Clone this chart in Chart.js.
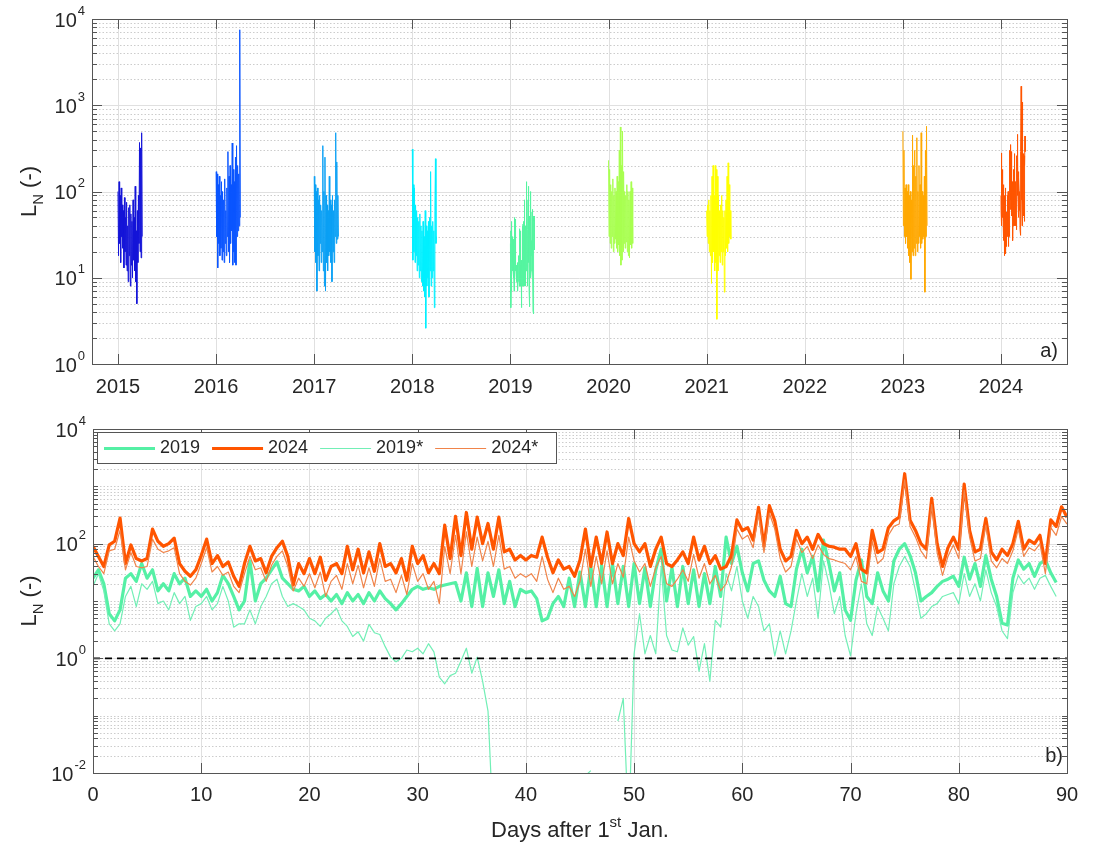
<!DOCTYPE html>
<html>
<head>
<meta charset="utf-8">
<script src="https://cdn.jsdelivr.net/npm/chart.js@4.4.1/dist/chart.umd.min.js"></script>
<style>
  body { margin: 0; background: #fff; }
  #wrap { position: relative; width: 1096px; height: 844px; }
  canvas { position: absolute; left: 0; }
  #top { top: 0; }
  #bot { top: 410px; }
</style>
</head>
<body>
<div id="wrap">
  <canvas id="top" width="1096" height="410"></canvas>
  <canvas id="bot" width="1096" height="434"></canvas>
</div>
<script>
// sample times (days after 1 Jan)
const DAYS = Array.from({ length: 181 }, (_, i) => i / 2);      // panel b, half-day
const DAYS_TOP = Array.from({ length: 46 }, (_, i) => i * 2);   // panel a, other years

const YEAR_TICKS = [2015, 2016, 2017, 2018, 2019, 2020, 2021, 2022, 2023, 2024];
const DAY_TICKS = [0, 10, 20, 30, 40, 50, 60, 70, 80, 90];
const THRESHOLD = 1;

// L_N, 2019 and 2024 (panel b thick lines, also panel a)
const LN_2019 = [
  25,35,20,6,4.5,7,25,30,22,45,  25,35,15,20,15,30,20,25,12,15,
  12,16,10,14,28,20,12,7,10,50,  10,20,25,35,48,25,20,16,15,18,
  12,15,11,13,10,13,9,14,10,13,  9,14,10,15,11,9,7,9,12,16,
  18,16,17,16,18,19,20,21,10,31, 8,37,8,31,12,35,9,22,8,16,
  14,15,11,4.5,5,9,12,8,25,8,    32,8,40,8,42,8,45,9,40,8,
  45,9,38,8,35,80,10,38,8,40,    9,35,8,30,9,40,12,130,45,90,
  31,15,45,50,23,15,12,27,9,8,   36,80,31,60,15,115,45,15,31,7,
  4.6,23,52,12,9,31,15,10,50,80, 100,62,31,10,12,14,18,22,24,27,
  18,58,24,45,18,62,24,12,4.1,3.8, 25,52,36,45,27,45,52,31,21,null,
  null
];
const LN_2024 = [
  90,60,40,95,110,280,45,95,55,50,   55,180,110,90,100,125,45,33,27,35,
  62,120,45,62,40,48,27,18,45,90,    50,55,31,60,85,110,60,19,45,30,
  55,30,58,23,40,45,30,90,35,80,     31,72,33,100,40,45,31,55,23,90,
  45,62,31,45,30,210,55,300,62,350,  80,290,100,225,80,290,72,80,52,62,
  52,62,58,130,58,31,52,36,40,27,    52,180,40,130,45,160,45,100,62,275,
  100,72,100,40,80,130,45,40,52,72,  45,130,52,90,45,62,36,40,62,260,
  170,190,115,430,90,460,250,80,50,60, 170,100,130,80,145,100,90,87,80,80,
  60,100,36,31,170,70,80,190,250,290,  1660,257,170,100,80,615,100,40,85,130,
  80,1090,170,72,80,275,72,52,80,62,   100,245,80,115,100,140,45,260,200,440,
  290
];
// starred variants (panel b thin lines)
const LN_2019_STAR = [
  18,30,15,4,3,4,12,18,8,20,     16,22,9,10,7,14,9,12,4.6,8,
  9,12,7,9,18,10,3.5,4,4,7,      4,8,12,20,24,12,8,9,8,7,
  5,4.5,3.6,5,6,7.5,4.5,3.6,2.4,2.9, 2,3.9,2.8,2.6,1.6,1.05,0.87,1,1.4,1.3,
  1.5,1.2,1.8,1.3,0.47,0.36,0.5,0.55,0.9,1.5, 0.55,1.05,0.4,0.12,0.001,null,null,null,null,null,
  null,null,null,null,null,null,null,null,null,null, null,0.009,0.011,null,null,null,null,0.08,0.2,0.001,
  1.2,6,1.2,2.5,1.2,40,2.5,1.4,1.3,3.4, 1.7,2.4,0.6,1.8,0.4,4.6,3.5,30,15,40,
  10,5,12,8,3,4,1.1,3,1.2,3,     10,30,12,25,5,50,20,6,12,2.5,
  1.1,6,20,4,2.5,8,5,3,20,40,    60,40,15,5,6,8,9,12,13,14,
  9,30,12,20,10,35,14,8,3,2.2,   14,28,20,25,16,25,28,18,12,null,
  null
];
const LN_2024_STAR = [
  60,40,30,75,80,170,35,70,40,38,   40,120,80,70,75,85,30,22,19,25,
  45,85,32,40,28,32,18,14,30,60,    35,38,22,42,60,75,40,15,25,18,
  30,17,32,12,22,28,16,45,20,42,    17,38,18,55,22,24,14,28,13,45,
  22,30,16,22,9,90,30,140,30,160,   40,130,50,110,40,140,36,40,25,30,
  26,30,22,60,24,14,25,16,18,12,    22,80,18,60,20,75,20,45,26,130,
  50,32,45,18,38,60,20,18,24,35,    22,65,25,45,20,28,15,20,40,180,
  120,140,85,330,70,340,180,55,32,40, 120,70,90,55,95,65,55,52,48,45,
  35,60,22,20,110,45,55,140,200,220,  1300,200,130,75,55,480,70,28,60,95,
  55,850,130,50,55,210,50,38,55,45,   75,180,60,85,75,100,30,190,140,300,
  220
];

// panel a, other years (every 2 days)
const LN_2015 = [100,18,130,25,90,15,110,30,70,22, 60,13,85,20,50,14,75,12,40,9, 65,18,70,8,55,14,45,10,80,16, 50,12,115,9,35,5,60,15,90,25, 370,20,320,17,480,30];
const LN_2016 = [170,30,160,13,120,25,150,18,90,22, 130,16,100,20,80,15,140,25,60,18, 110,30,290,20,150,15,200,25,120,35, 365,14,180,20,130,15,250,14,340,30, 200,35,160,40,7500,50];
const LN_2017 = [150,20,120,15,100,7,110,18,80,12, 90,25,70,15,60,20,340,12,100,8, 250,7,90,15,70,12,60,18,150,20, 80,15,70,9,90,20,60,15,80,30, 480,25,220,28,90,30];
const LN_2018 = [310,16,120,20,110,15,70,18,60,12, 50,14,45,10,55,12,40,9,35,8, 45,7,30,6,60,2.6,40,8,35,10, 45,6,50,12,170,8,40,10,45,12, 35,4.5,60,240,25,30];
const LN_2020 = [230,30,180,25,120,22,100,30,140,20, 90,25,110,28,100,22,150,20,130,24, 300,18,560,14,200,16,500,20,170,25, 100,22,90,26,120,20,100,18,80,17, 100,24,130,22,110,25];
const LN_2021 = [60,30,70,25,80,20,60,18,90,8.6, 150,15,200,20,90,12,200,15,180,3.3, 150,12,90,18,60,15,70,20,90,14, 60,20,50,6.8,60,18,80,22,150,20, 215,25,120,30,60,28];
const LN_2023 = [500,40,300,30,110,25,120,30,100,22, 120,18,90,15,100,9.6,80,20,450,18, 200,22,300,18,150,25,420,20,100,25, 200,30,120,22,480,25,100,28,90,30, 150,6.8,300,30,570,40];

const YEAR_COLORS = {
  2015: '#1414d8', 2016: '#0a55ff', 2017: '#0aa0f5', 2018: '#00f0ff', 2019: '#55f5a0',
  2020: '#a8ff50', 2021: '#ffff00', 2023: '#ffa800', 2024: '#ff5500'
};

const FONT = '"Liberation Sans", Arial, Helvetica, sans-serif';
const INK = '#262626';
const FRAME = '#555';
Chart.defaults.font.family = FONT;

function yearPoints(year, days, vals) {
  return vals.map((v, i) => ({ x: year + days[i] / 365, y: v }));
}
function dayPoints(vals) {
  return vals.map((v, i) => ({ x: DAYS[i], y: v }));
}

// labelled decades every `step`, everything else is minor grid
function decades(min, max, step) {
  const lo = Math.round(Math.log10(min)), hi = Math.round(Math.log10(max));
  const major = [], minor = [];
  for (let e = lo; e <= hi; e++) {
    if ((e - lo) % step === 0) major.push([Math.pow(10, e), e]);
    else minor.push(Math.pow(10, e));
    if (e < hi) for (let k = 2; k <= 9; k++) minor.push(k * Math.pow(10, e));
  }
  return { major, minor };
}

function seg(ctx, x1, y1, x2, y2) {
  ctx.beginPath(); ctx.moveTo(x1, y1); ctx.lineTo(x2, y2); ctx.stroke();
}

// MATLAB-like box: grid, inward ticks, 10^n labels, titles, panel letter, legend
function matlabFrame(cfg) {
  return {
    id: 'matlabFrame',
    beforeDatasetsDraw(chart) {
      const { ctx, chartArea: a, scales: { x, y } } = chart;
      const g = decades(y.min, y.max, cfg.decStep);
      ctx.save();
      ctx.lineWidth = 1;
      ctx.strokeStyle = 'rgba(0,0,0,0.2)';
      ctx.setLineDash([1.5, 2]);
      g.minor.forEach(v => { const p = Math.round(y.getPixelForValue(v)) + 0.5; seg(ctx, a.left, p, a.right, p); });
      ctx.setLineDash([]);
      ctx.strokeStyle = '#e0e0e0';
      g.major.forEach(([v]) => { const p = Math.round(y.getPixelForValue(v)) + 0.5; seg(ctx, a.left, p, a.right, p); });
      x.ticks.forEach(t => { const p = Math.round(x.getPixelForValue(t.value)) + 0.5; seg(ctx, p, a.top, p, a.bottom); });
      ctx.restore();
    },
    afterDatasetsDraw(chart) {
      const { ctx, chartArea: a, scales: { x, y } } = chart;
      const g = decades(y.min, y.max, cfg.decStep);
      ctx.save();
      // ticks
      ctx.strokeStyle = FRAME; ctx.lineWidth = 1;
      x.ticks.forEach(t => {
        const p = Math.round(x.getPixelForValue(t.value)) + 0.5;
        seg(ctx, p, a.bottom, p, a.bottom - 10); seg(ctx, p, a.top, p, a.top + 10);
      });
      g.major.forEach(([v]) => {
        const p = Math.round(y.getPixelForValue(v)) + 0.5;
        seg(ctx, a.left, p, a.left + 10, p); seg(ctx, a.right, p, a.right - 10, p);
      });
      g.minor.forEach(v => {
        const p = Math.round(y.getPixelForValue(v)) + 0.5;
        seg(ctx, a.left, p, a.left + 5, p); seg(ctx, a.right, p, a.right - 5, p);
      });
      ctx.strokeRect(Math.round(a.left) + 0.5, Math.round(a.top) + 0.5, Math.round(a.right - a.left), Math.round(a.bottom - a.top));

      // y tick labels 10^n
      ctx.fillStyle = INK; ctx.textAlign = 'left'; ctx.textBaseline = 'middle';
      g.major.forEach(([v, e]) => {
        const p = y.getPixelForValue(v);
        const sup = String(e);
        ctx.font = `20px ${FONT}`; const wb = ctx.measureText('10').width;
        ctx.font = `13px ${FONT}`; const ws = ctx.measureText(sup).width;
        const xb = a.left - 7 - ws - wb - 1;
        ctx.font = `20px ${FONT}`; ctx.fillText('10', xb, p + 2);
        ctx.font = `13px ${FONT}`; ctx.fillText(sup, xb + wb + 1, p - 8);
      });

      // y title  L_N (-)
      ctx.save();
      ctx.translate(28, (a.top + a.bottom) / 2);
      ctx.rotate(-Math.PI / 2);
      ctx.textBaseline = 'alphabetic';
      ctx.font = `22px ${FONT}`;
      const wL = ctx.measureText('L').width, wP = ctx.measureText(' (-)').width;
      ctx.font = `15px ${FONT}`;
      const wN = ctx.measureText('N').width;
      let sx = -(wL + wN + wP) / 2;
      ctx.font = `22px ${FONT}`; ctx.fillText('L', sx, 8);
      ctx.font = `15px ${FONT}`; ctx.fillText('N', sx + wL, 15);
      ctx.font = `22px ${FONT}`; ctx.fillText(' (-)', sx + wL + wN, 8);
      ctx.restore();

      // panel letter
      ctx.font = `20px ${FONT}`; ctx.textAlign = 'right'; ctx.textBaseline = 'alphabetic';
      ctx.fillText(cfg.letter, a.right - cfg.letterDx, a.bottom - cfg.letterDy);

      // x title with superscript
      if (cfg.xTitle) {
        const [t1, sup, t2] = cfg.xTitle;
        ctx.textAlign = 'left';
        ctx.font = `22px ${FONT}`; const w1 = ctx.measureText(t1).width, w3 = ctx.measureText(t2).width;
        ctx.font = `15px ${FONT}`; const w2 = ctx.measureText(sup).width;
        const cx = (a.left + a.right) / 2 - (w1 + w2 + w3) / 2;
        const base = a.bottom + 64;
        ctx.font = `22px ${FONT}`; ctx.fillText(t1, cx, base);
        ctx.font = `15px ${FONT}`; ctx.fillText(sup, cx + w1, base - 10);
        ctx.font = `22px ${FONT}`; ctx.fillText(t2, cx + w1 + w2, base);
      }

      // legend
      if (cfg.legend) {
        const items = chart.data.datasets.filter(d => d.label);
        const top = a.top + 3, h = 31, left = a.left + 4, cy = top + h / 2;
        ctx.font = `18px ${FONT}`;
        let xx = left + 7;
        const pos = items.map(d => {
          const p = { d, x: xx };
          xx += 56 + ctx.measureText(d.label).width + 12;
          return p;
        });
        const right = xx - 12 + 18;
        ctx.fillStyle = '#fff'; ctx.fillRect(left, top, right - left, h);
        ctx.strokeStyle = FRAME; ctx.lineWidth = 1;
        ctx.strokeRect(Math.round(left) + 0.5, Math.round(top) + 0.5, Math.round(right - left), h);
        pos.forEach(({ d, x: px }) => {
          ctx.strokeStyle = d.borderColor; ctx.lineWidth = d.borderWidth;
          seg(ctx, px, Math.round(cy) + 0.5, px + 51, Math.round(cy) + 0.5);
          ctx.fillStyle = INK; ctx.textAlign = 'left'; ctx.textBaseline = 'middle';
          ctx.fillText(d.label, px + 56, cy + 1);
        });
      }
      ctx.restore();
    }
  };
}

function options(cfg) {
  return {
    responsive: false, animation: false, devicePixelRatio: 1,
    layout: { padding: { left: 0, right: 29, top: 19, bottom: 0 } },
    plugins: { legend: { display: false }, tooltip: { enabled: false } },
    elements: { point: { radius: 0 }, line: { tension: 0, borderJoinStyle: 'round' } },
    scales: {
      x: {
        type: 'linear', min: cfg.xMin, max: cfg.xMax,
        afterBuildTicks: s => { s.ticks = cfg.xTicks.map(v => ({ value: v })); },
        afterFit: s => { s.height = cfg.xHeight; },
        grid: { display: false, drawTicks: false }, border: { display: false },
        ticks: { padding: cfg.xPad, color: INK, font: { size: 20 }, maxRotation: 0, autoSkip: false, callback: v => String(v) }
      },
      y: {
        type: 'logarithmic', min: cfg.yMin, max: cfg.yMax,
        afterFit: s => { s.width = cfg.yWidth; },
        grid: { display: false, drawTicks: false }, border: { display: false },
        ticks: { display: false }
      }
    }
  };
}

// panel a
const TOP_SERIES = [
  [2015, DAYS_TOP, LN_2015], [2016, DAYS_TOP, LN_2016], [2017, DAYS_TOP, LN_2017],
  [2018, DAYS_TOP, LN_2018], [2019, DAYS, LN_2019], [2020, DAYS_TOP, LN_2020],
  [2021, DAYS_TOP, LN_2021], [2023, DAYS_TOP, LN_2023], [2024, DAYS, LN_2024]
];
new Chart(document.getElementById('top'), {
  type: 'line',
  data: {
    datasets: TOP_SERIES.map(([yr, days, vals]) => ({
      data: yearPoints(yr, days, vals), borderColor: YEAR_COLORS[yr], borderWidth: 1
    }))
  },
  options: options({ xMin: 2014.735, xMax: 2024.673, xTicks: YEAR_TICKS, xHeight: 46, xPad: 11, yMin: 1, yMax: 1e4, yWidth: 92 }),
  plugins: [matlabFrame({ letter: 'a)', letterDx: 9, letterDy: 7, decStep: 1 })]
});

// panel b
new Chart(document.getElementById('bot'), {
  type: 'line',
  data: {
    datasets: [
      { label: '2019', data: dayPoints(LN_2019), borderColor: '#55f0a5', borderWidth: 3.2, order: 4 },
      { label: '2024', data: dayPoints(LN_2024), borderColor: '#ff5500', borderWidth: 3.2, order: 3 },
      { label: '2019*', data: dayPoints(LN_2019_STAR), borderColor: '#72efb6', borderWidth: 1.2, order: 2 },
      { label: '2024*', data: dayPoints(LN_2024_STAR), borderColor: '#f0844a', borderWidth: 1.2, order: 1 },
      { data: [{ x: DAYS[0], y: THRESHOLD }, { x: DAYS[DAYS.length - 1], y: THRESHOLD }],
        borderColor: '#000', borderWidth: 1.6, borderDash: [7, 5], order: 0 }
    ]
  },
  options: options({ xMin: 0, xMax: 90, xTicks: DAY_TICKS, xHeight: 71, xPad: 10, yMin: 0.01, yMax: 1e4, yWidth: 93 }),
  plugins: [matlabFrame({ letter: 'b)', letterDx: 4, letterDy: 11, legend: true, decStep: 2, xTitle: ['Days after 1', 'st', ' Jan.'] })]
});
</script>
</body>
</html>
